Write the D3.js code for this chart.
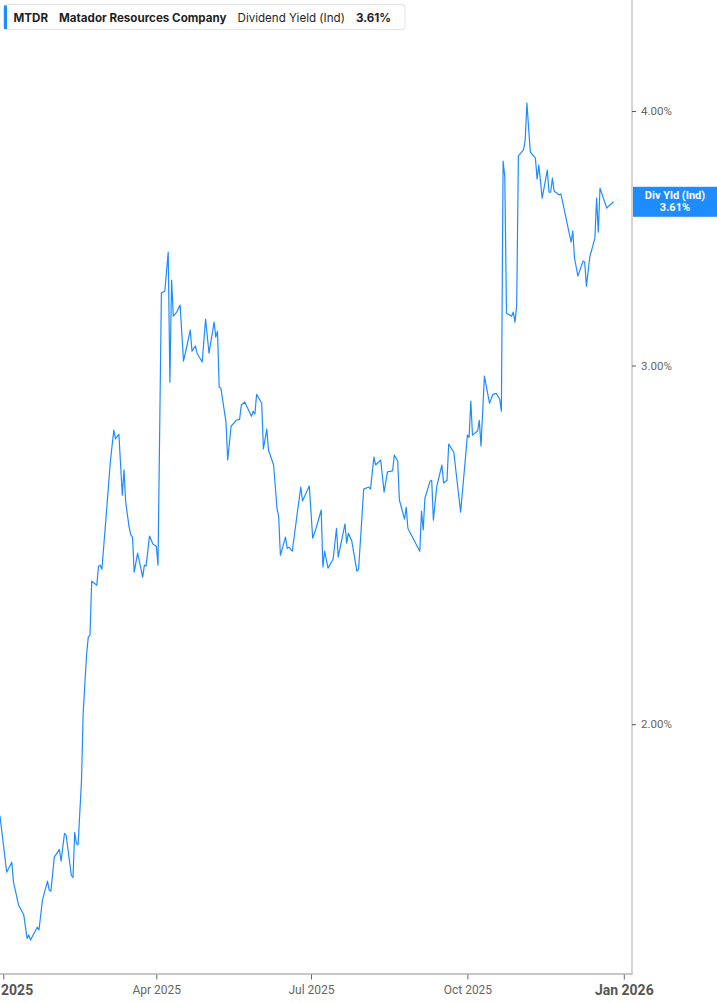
<!DOCTYPE html>
<html lang="en">
<head>
<meta charset="UTF-8">
<style>
  body { margin: 0; background: #fff; }
  svg { display: block; }
</style>
</head>
<body>
<div id="chart"></div>
<script src="https://cdn.jsdelivr.net/npm/d3@7"></script>
<script>
    var width = 717,
        height = 1005,
        plotRight = 632,
        plotBottom = 974,
        blue = "#1e8cff";

    // header
    var ticker = "MTDR",
        company = "Matador Resources Company",
        metric = "Dividend Yield (Ind)",
        lastLabel = "3.61%",
        lastValue = 3.61;

    // daily dividend yield (%)
    var dates = [
        "2024-12-30","2025-01-03","2025-01-06","2025-01-07","2025-01-10","2025-01-13","2025-01-15","2025-01-16",
        "2025-01-17","2025-01-21","2025-01-22","2025-01-24","2025-01-27","2025-01-28","2025-01-29","2025-01-31",
        "2025-02-03","2025-02-04","2025-02-06","2025-02-07","2025-02-10","2025-02-11","2025-02-12","2025-02-13",
        "2025-02-14","2025-02-16","2025-02-17","2025-02-19","2025-02-20","2025-02-21","2025-02-22","2025-02-25",
        "2025-02-26","2025-02-27","2025-02-28","2025-03-03","2025-03-05","2025-03-07","2025-03-08","2025-03-10",
        "2025-03-12","2025-03-13","2025-03-14","2025-03-16","2025-03-17","2025-03-18","2025-03-19","2025-03-21",
        "2025-03-24","2025-03-25","2025-03-26","2025-03-28","2025-03-30","2025-04-01","2025-04-02","2025-04-04",
        "2025-04-06","2025-04-08","2025-04-09","2025-04-10","2025-04-11","2025-04-13","2025-04-15","2025-04-17",
        "2025-04-19","2025-04-21","2025-04-22","2025-04-24","2025-04-25","2025-04-28","2025-04-30","2025-05-02",
        "2025-05-05","2025-05-06","2025-05-07","2025-05-08","2025-05-09","2025-05-12","2025-05-13","2025-05-15",
        "2025-05-18","2025-05-20","2025-05-21","2025-05-23","2025-05-27","2025-05-28","2025-05-29","2025-05-30",
        "2025-06-02","2025-06-03","2025-06-05","2025-06-06","2025-06-09","2025-06-11","2025-06-12","2025-06-13",
        "2025-06-16","2025-06-17","2025-06-18","2025-06-20","2025-06-23","2025-06-25","2025-06-26","2025-06-30",
        "2025-07-02","2025-07-04","2025-07-07","2025-07-08","2025-07-09","2025-07-11","2025-07-14","2025-07-16",
        "2025-07-17","2025-07-21","2025-07-22","2025-07-23","2025-07-25","2025-07-28","2025-07-29","2025-08-01",
        "2025-08-04","2025-08-05","2025-08-07","2025-08-08","2025-08-11","2025-08-13","2025-08-15","2025-08-18",
        "2025-08-19","2025-08-21","2025-08-22","2025-08-25","2025-08-26","2025-08-27","2025-08-30","2025-09-03",
        "2025-09-04","2025-09-05","2025-09-06","2025-09-09","2025-09-10","2025-09-11","2025-09-13","2025-09-16",
        "2025-09-17","2025-09-19","2025-09-20","2025-09-23","2025-09-27","2025-09-30","2025-10-01","2025-10-02",
        "2025-10-03","2025-10-04","2025-10-07","2025-10-08","2025-10-09","2025-10-11","2025-10-14","2025-10-16",
        "2025-10-18","2025-10-20","2025-10-21","2025-10-22","2025-10-23","2025-10-24","2025-10-27","2025-10-28",
        "2025-10-29","2025-10-30","2025-10-31","2025-11-03","2025-11-04","2025-11-05","2025-11-07","2025-11-10",
        "2025-11-11","2025-11-12","2025-11-14","2025-11-17","2025-11-18","2025-11-19","2025-11-20","2025-11-21",
        "2025-11-24","2025-11-25","2025-12-01","2025-12-02","2025-12-03","2025-12-05","2025-12-08","2025-12-09",
        "2025-12-10","2025-12-12","2025-12-15","2025-12-16","2025-12-17","2025-12-18","2025-12-22","2025-12-23",
        "2025-12-26"
    ];
    var yields = [
        1.804,1.692,1.711,1.673,1.630,1.613,1.570,1.576,
        1.567,1.590,1.585,1.639,1.675,1.658,1.656,1.721,
        1.736,1.713,1.768,1.764,1.686,1.682,1.770,1.748,
        1.745,1.877,2.027,2.165,2.207,2.212,2.351,2.340,
        2.391,2.394,2.383,2.562,2.693,2.789,2.761,2.776,
        2.591,2.666,2.571,2.499,2.477,2.471,2.375,2.427,
        2.362,2.394,2.392,2.474,2.452,2.446,2.394,3.256,
        3.263,3.410,2.944,3.304,3.172,3.187,3.212,3.015,
        3.067,3.123,3.049,3.067,3.042,3.012,3.162,3.042,
        3.151,3.098,3.119,2.928,2.924,2.814,2.696,2.801,
        2.820,2.823,2.869,2.879,2.833,2.849,2.840,2.904,
        2.875,2.730,2.792,2.726,2.681,2.553,2.528,2.421,
        2.471,2.440,2.443,2.432,2.542,2.615,2.574,2.618,
        2.468,2.496,2.548,2.389,2.432,2.386,2.410,2.496,
        2.416,2.508,2.454,2.482,2.460,2.378,2.383,2.609,
        2.615,2.609,2.705,2.681,2.696,2.600,2.660,2.663,
        2.711,2.693,2.577,2.522,2.556,2.496,2.468,2.432,
        2.545,2.491,2.582,2.632,2.635,2.519,2.618,2.681,
        2.627,2.635,2.745,2.720,2.542,2.711,2.773,2.766,
        2.882,2.773,2.786,2.820,2.739,2.964,2.875,2.904,
        2.907,2.888,2.849,3.780,3.712,3.183,3.172,3.187,
        3.151,3.212,3.802,3.828,3.871,4.036,3.819,3.793,
        3.704,3.763,3.625,3.742,3.650,3.650,3.708,3.654,
        3.638,3.642,3.449,3.492,3.388,3.319,3.376,3.372,
        3.282,3.392,3.465,3.625,3.488,3.666,3.584,3.592,
        3.610
    ];

    var xTicks = ["2025-01-01","2025-04-01","2025-07-01","2025-10-01","2026-01-01"];
    var yTicks = [2, 3, 4];
    var xDomain = ["2025-01-01", "2026-01-01"];
    var yDomain = [1.508, 4.535];

    var parse = d3.timeParse("%Y-%m-%d");
    var data = dates.map(function(d, i) { return { date: parse(d), value: yields[i] }; });

    var x = d3.scaleTime()
              .domain(xDomain.map(parse))
              .range([3.3, 623.8]);

    var y = d3.scaleLog()
              .domain(yDomain)
              .range([plotBottom, 0]);

    var svg = d3.select("#chart")
                .append("svg")
                  .attr("width", width)
                  .attr("height", height);

    svg.append("clipPath")
        .attr("id", "plot-clip")
      .append("rect")
        .attr("x", 0).attr("y", 0)
        .attr("width", plotRight).attr("height", plotBottom);

    // line
    var line = d3.line()
                 .x(function(d) { return x(d.date); })
                 .y(function(d) { return y(d.value); });

    svg.append("path")
        .datum(data)
        .attr("clip-path", "url(#plot-clip)")
        .attr("d", line)
        .style("fill", "none")
        .style("stroke", blue)
        .style("stroke-width", 1.2)
        .style("stroke-linejoin", "round");

    // axis frame lines
    svg.append("line")
        .attr("x1", plotRight).attr("x2", plotRight)
        .attr("y1", 0).attr("y2", plotBottom)
        .style("stroke", "#a8a8a8").style("stroke-width", 1);

    svg.append("line")
        .attr("x1", 0).attr("x2", plotRight + 0.5)
        .attr("y1", plotBottom).attr("y2", plotBottom)
        .style("stroke", "#b4b4b4").style("stroke-width", 1.6);

    // bottom axis
    var xAxis = d3.axisBottom(x)
                  .tickValues(xTicks.map(parse))
                  .tickSize(5)
                  .tickPadding(6)
                  .tickFormat(d3.timeFormat("%b %Y"));

    var gx = svg.append("g")
                .attr("transform", "translate(0," + (plotBottom + 0.5) + ")")
                .call(xAxis);
    gx.select(".domain").remove();
    gx.selectAll(".tick line").style("stroke", "#666");
    gx.selectAll(".tick text")
        .style("font-family", "Roboto, sans-serif")
        .style("font-size", function(d) { return d.getMonth() === 0 ? "14px" : "12px"; })
        .style("font-weight", function(d) { return d.getMonth() === 0 ? "700" : "400"; })
        .style("fill", function(d) { return d.getMonth() === 0 ? "#555" : "#666"; });

    // right axis
    var yAxis = d3.axisRight(y)
                  .tickValues(yTicks)
                  .tickSize(4)
                  .tickPadding(5)
                  .tickFormat(function(d) { return d.toFixed(2) + "%"; });

    var gy = svg.append("g")
                .attr("transform", "translate(" + plotRight + ",0)")
                .call(yAxis);
    gy.select(".domain").remove();
    gy.selectAll(".tick line").style("stroke", "#555");
    gy.selectAll(".tick text")
        .style("font-family", "Roboto, sans-serif")
        .style("font-size", "11.5px")
        .style("fill", "#666");

    // last value badge
    var badge = svg.append("g")
                   .attr("transform", "translate(" + (plotRight + 1) + "," + y(lastValue) + ")");
    badge.append("rect")
        .attr("x", 0).attr("y", -15)
        .attr("width", width - plotRight - 1).attr("height", 30)
        .style("fill", blue);
    badge.append("text")
        .attr("x", (width - plotRight - 1) / 2).attr("y", -3)
        .attr("text-anchor", "middle")
        .style("font-family", "Roboto, sans-serif")
        .style("font-size", "11px").style("font-weight", "700")
        .style("fill", "#fff")
        .text("Div Yld (Ind)");
    badge.append("text")
        .attr("x", (width - plotRight - 1) / 2).attr("y", 9)
        .attr("text-anchor", "middle")
        .style("font-family", "Roboto, sans-serif")
        .style("font-size", "11px").style("font-weight", "700")
        .style("fill", "#fff")
        .text(lastLabel);

    // header legend
    var header = svg.append("g");
    var box = header.append("rect")
        .attr("x", 3.5).attr("y", 4.5)
        .attr("height", 25).attr("rx", 3)
        .style("fill", "#fff").style("stroke", "#e3e3e3");
    header.append("rect")
        .attr("x", 4).attr("y", 5.5)
        .attr("width", 3).attr("height", 23.5)
        .style("fill", blue);

    var parts = [
        { text: ticker, weight: 700 },
        { text: company, weight: 700 },
        { text: metric, weight: 400 },
        { text: lastLabel, weight: 700 }
    ];
    var cursor = 13.5;
    parts.forEach(function(p) {
        var t = header.append("text")
            .attr("x", cursor).attr("y", 21.5)
            .style("font-family", "Inter, sans-serif")
            .style("font-size", "11.6px")
            .style("font-weight", p.weight)
            .style("fill", "#1f1f1f")
            .text(p.text);
        cursor += t.node().getComputedTextLength() + 11;
    });
    box.attr("width", cursor - 11 + 14 - 3.5);
</script>
</body>
</html>
